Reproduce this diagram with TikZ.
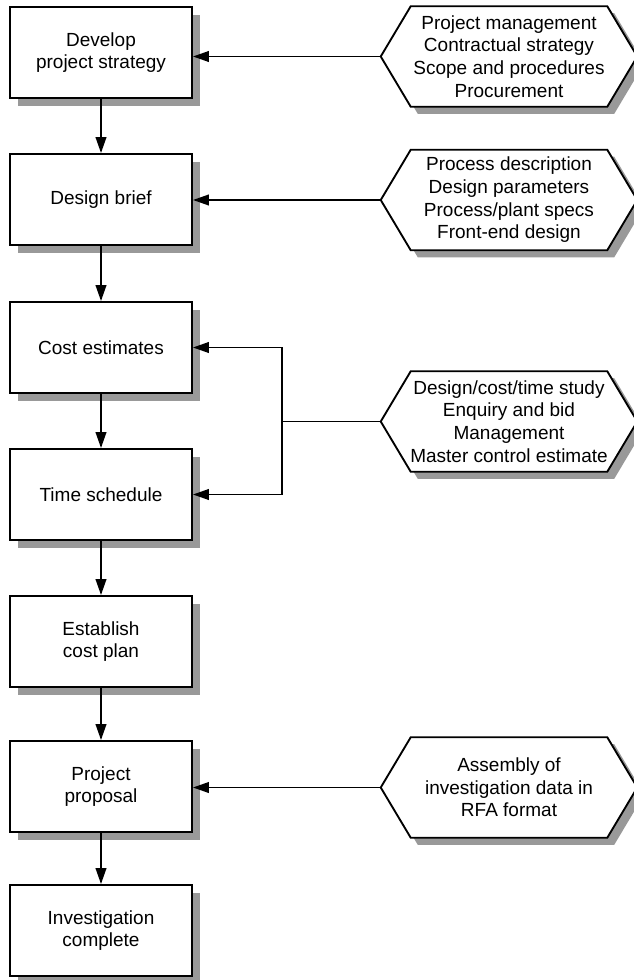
\documentclass[tikz,border=0pt]{standalone}
\usepackage{fontspec}
\setmainfont{Liberation Sans}
\usetikzlibrary{arrows.meta,shadows,backgrounds}

\definecolor{shadowgray}{HTML}{999999}

% hexagonal outline with drop shadow around an (invisible) node
\newcommand\hexoutline[1]{%
  \fill[shadowgray] ([shift={(7,7)}]#1.west) -- ([shift={(37,7)}]#1.north west)
    -- ([shift={(-23,7)}]#1.north east) -- ([shift={(7,7)}]#1.east)
    -- ([shift={(-23,7)}]#1.south east) -- ([shift={(37,7)}]#1.south west) -- cycle;
  \filldraw[hexline] (#1.west) -- ([shift={(30,0)}]#1.north west)
    -- ([shift={(-30,0)}]#1.north east) -- (#1.east)
    -- ([shift={(-30,0)}]#1.south east) -- ([shift={(30,0)}]#1.south west) -- cycle;
}

\begin{document}
\begin{tikzpicture}[x=0.75pt,y=-0.75pt,
  every node/.style={font=\fontsize{14.25pt}{17pt}\selectfont, align=center},
  stepbox/.style={draw, line width=1.4pt, fill=white, inner sep=0pt,
    minimum width=136.5pt, minimum height=68.25pt,
    drop shadow={shadow xshift=6pt, shadow yshift=-6pt, fill=shadowgray, opacity=1}},
  hexnode/.style={inner sep=0pt, minimum width=192pt, minimum height=75pt},
  hexline/.style={fill=white, line width=1.4pt, line join=miter},
  conn/.style={line width=1.4pt, -{Triangle[length=12pt,width=8pt]}},
  link/.style={line width=1.4pt}]

\useasboundingbox (0,0) rectangle (634,980);
\clip (0,0) rectangle (634,980);

% process steps
\node[stepbox] (b1) at (101,52.5)  {Develop\\project strategy};
\node[stepbox] (b2) at (101,199.5) {Design brief};
\node[stepbox] (b3) at (101,347.5) {Cost estimates};
\node[stepbox] (b4) at (101,494.5) {Time schedule};
\node[stepbox] (b5) at (101,641.5) {Establish\\cost plan};
\node[stepbox] (b6) at (101,786.5) {Project\\proposal};
\node[stepbox] (b7) at (101,930.5) {Investigation\\complete};

% inputs
\node[hexnode] (h1) at (509,56.5) {Project management\\Contractual strategy\\Scope and procedures\\Procurement};
\node[hexnode] (h2) at (509,200)  {Process description\\Design parameters\\Process/plant specs\\Front-end design};
\node[hexnode] (h3) at (509,421.5) {Design/cost/time study\\Enquiry and bid\\Management\\Master control estimate};
\node[hexnode] (h4) at (509,787.5) {Assembly of\\investigation data in\\RFA format};

\begin{pgfonlayer}{background}
  \hexoutline{h1}
  \hexoutline{h2}
  \hexoutline{h3}
  \hexoutline{h4}
\end{pgfonlayer}

% main flow
\draw[conn] (b1.south) -- (b2.north);
\draw[conn] (b2.south) -- (b3.north);
\draw[conn] (b3.south) -- (b4.north);
\draw[conn] (b4.south) -- (b5.north);
\draw[conn] (b5.south) -- (b6.north);
\draw[conn] (b6.south) -- (b7.north);

% inputs into the steps
\draw[conn] (h1.west) -- (h1.west -| b1.east);
\draw[conn] (h2.west) -- (h2.west -| b2.east);
\draw[conn] (h4.west) -- (h4.west -| b6.east);

\coordinate (jn) at (282,421.5);
\draw[link] (h3.west) -- (jn);
\draw[conn] (jn) |- (b3.east);
\draw[conn] (jn) |- (b4.east);
\end{tikzpicture}
\end{document}
